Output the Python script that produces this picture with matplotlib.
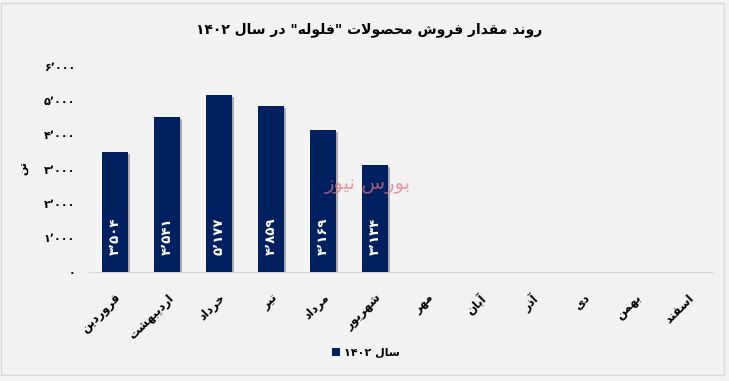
import re
import matplotlib
matplotlib.use("Agg")
import matplotlib.pyplot as plt
import matplotlib.patheffects as pe
from matplotlib.patches import Rectangle, Patch
import numpy as np

months = ["فروردین", "اردیبهشت", "خرداد", "تیر", "مرداد", "شهریور",
          "مهر", "آبان", "آذر", "دی", "بهمن", "اسفند"]
sales = [3504, 4541, 5177, 4859, 4169, 3134]
y_ticks = [0, 1000, 2000, 3000, 4000, 5000, 6000]
title = 'روند مقدار فروش محصولات "فلوله" در سال ۱۴۰۲'
series_name = "سال ۱۴۰۲"
y_label = "تن"
watermark = "بورس نیوز"

# matplotlib has no Arabic shaping, so map letters to presentation forms
DUAL = {'ب': 0xFE8F, 'ت': 0xFE95, 'ث': 0xFE99, 'ج': 0xFE9D, 'ح': 0xFEA1,
        'خ': 0xFEA5, 'س': 0xFEB1, 'ش': 0xFEB5, 'ص': 0xFEB9, 'ض': 0xFEBD,
        'ط': 0xFEC1, 'ظ': 0xFEC5, 'ع': 0xFEC9, 'غ': 0xFECD, 'ف': 0xFED1,
        'ق': 0xFED5, 'ل': 0xFEDD, 'م': 0xFEE1, 'ن': 0xFEE5, 'ه': 0xFEE9,
        'پ': 0xFB56, 'چ': 0xFB7A, 'ک': 0xFB8E, 'گ': 0xFB92, 'ی': 0xFBFC}
RIGHT = {'ا': 0xFE8D, 'آ': 0xFE81, 'د': 0xFEA9, 'ذ': 0xFEAB, 'ر': 0xFEAD,
         'ز': 0xFEAF, 'ژ': 0xFB8A, 'و': 0xFEED}
LAM_ALEF = {'ا': 0xFEFB, 'آ': 0xFEF5}


def fa(text):
    chars = list(text)
    n = len(chars)
    res = []
    i = 0
    while i < n:
        c = chars[i]
        if c not in DUAL and c not in RIGHT:
            res.append(c)
            i += 1
            continue
        prev = chars[i - 1] if i > 0 else ''
        nxt = chars[i + 1] if i + 1 < n else ''
        jp = prev in DUAL
        if c == 'ل' and nxt in LAM_ALEF:
            res.append(chr(LAM_ALEF[nxt] + (1 if jp else 0)))
            i += 2
            continue
        jn = c in DUAL and (nxt in DUAL or nxt in RIGHT)
        base = DUAL.get(c, RIGHT.get(c))
        if jp and jn:
            k = 3
        elif jp:
            k = 1
        elif jn:
            k = 2
        else:
            k = 0
        res.append(chr(base + k))
        i += 1
    tokens = re.findall(r'[۰-۹٬]+|.', ''.join(res))
    return ''.join(reversed(tokens))


def fa_num(v):
    s = f"{v:,}"
    return s.translate(str.maketrans("0123456789,", "۰۱۲۳۴۵۶۷۸۹٬"))


plt.rcParams['font.family'] = ['DejaVu Sans']
bg = '#f2f2f2'
bar_color = '#002060'

fig = plt.figure(figsize=(7.29, 3.81), dpi=100, facecolor=bg)
ax = fig.add_axes([89 / 729, 109 / 381, 624 / 729, 205 / 381], facecolor=bg)

x = np.arange(len(months))
bars = ax.bar(x[:len(sales)], sales, width=0.5, color=bar_color, zorder=3)
for b in bars:
    b.set_path_effects([pe.SimplePatchShadow(offset=(1.5, -1.5), alpha=0.3), pe.Normal()])

for xi, v in zip(x, sales):
    ax.annotate(fa_num(v), (xi, 0), xytext=(0, 12), textcoords='offset points',
                rotation=90, ha='center', va='bottom', color='white',
                fontsize=9.5, fontweight='bold', zorder=4)

ax.set_xlim(-0.5, len(months) - 0.5)
ax.set_ylim(0, 6000)
ax.set_yticks(y_ticks)
ax.set_yticklabels([fa_num(t) for t in y_ticks], fontsize=8, fontweight='bold')
ax.set_xticks(x)
ax.set_xticklabels([fa(m) for m in months], rotation=45, ha='right', va='top',
                   rotation_mode='anchor', fontsize=8.5, fontweight='bold')
ax.tick_params(axis='both', length=0)
ax.tick_params(axis='y', pad=10)
ax.tick_params(axis='x', pad=14)
for s in ['top', 'right', 'left']:
    ax.spines[s].set_visible(False)
ax.spines['bottom'].set_color('#d9d9d9')

ax.text(4.87, 2550, fa(watermark), color='#e07080', alpha=0.7,
        fontsize=14, ha='center', va='center', zorder=5)

fig.text(24 / 729, 1 - 168 / 381, fa(y_label), rotation=90, fontsize=8,
         fontweight='bold', ha='center', va='center')
fig.text(369 / 729, 1 - 30 / 381, fa(title), fontsize=10, fontweight='bold',
         ha='center', va='center')

handle = Patch(facecolor=bar_color)
fig.legend([handle], [fa(series_name)], loc='center', bbox_to_anchor=(366 / 729, 1 - 353 / 381),
           frameon=False, prop={'size': 8, 'weight': 'bold'}, handlelength=0.7,
           handleheight=0.7, handletextpad=0.4)

fig.patches.append(Rectangle((1 / 729, 6 / 381), 723 / 729, 372 / 381, transform=fig.transFigure,
                             fill=False, edgecolor='#d9d9d9', linewidth=1))

fig.savefig('out.png', dpi=100, facecolor=bg)
